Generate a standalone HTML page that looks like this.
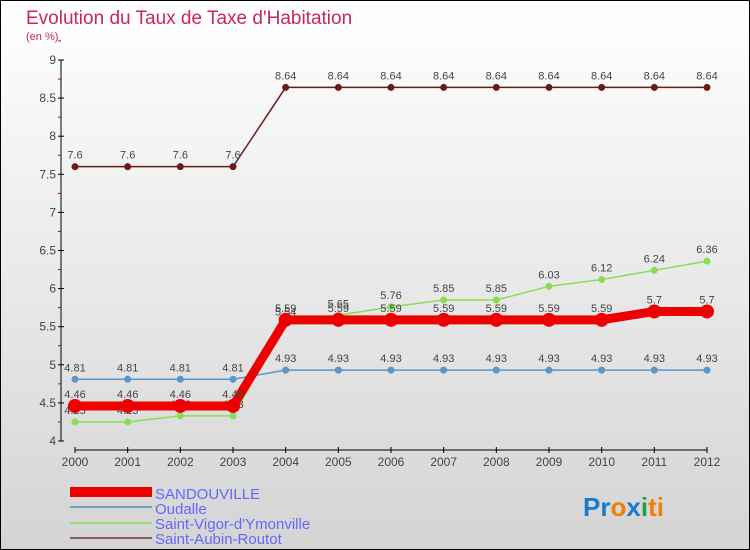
<!DOCTYPE html>
<html><head><meta charset="utf-8"><style>
body{margin:0}
#c{width:750px;height:550px;position:relative;box-sizing:border-box;border:1px solid #000;background:linear-gradient(#fff,#d4d4d4);font-family:"Liberation Sans",sans-serif;overflow:hidden}
</style></head><body>
<div id="c">
<svg id="s" width="750" height="550" style="position:absolute;left:-1px;top:-1px">
<text x="26" y="24" font-size="19" fill="#c8285a">Evolution du Taux de Taxe d'Habitation</text>
<text x="26" y="40" font-size="11" fill="#c8285a">(en %)</text>
<g id="axes"></g><g id="series"></g>
<g>
<rect x="70" y="487" width="82" height="10" fill="#e00"/>
<text x="155" y="499" font-size="15" fill="#6666ff">SANDOUVILLE</text>
<line x1="70" x2="152" y1="507" y2="507" stroke="#6fa0c8" stroke-width="2"/>
<text x="155" y="514" font-size="15" fill="#6666ff">Oudalle</text>
<line x1="70" x2="152" y1="523" y2="523" stroke="#99dd77" stroke-width="2"/>
<text x="155" y="529" font-size="15" fill="#6666ff">Saint-Vigor-d'Ymonville</text>
<line x1="70" x2="152" y1="538" y2="538" stroke="#8b5a5a" stroke-width="2"/>
<text x="155" y="544" font-size="15" fill="#6666ff">Saint-Aubin-Routot</text>
</g>
<text x="583" y="516" font-size="26" font-weight="bold"><tspan fill="#1a7ad0">Pr</tspan><tspan fill="#f08000">o</tspan><tspan fill="#1a7ad0">x</tspan><tspan fill="#20a040">i</tspan><tspan fill="#f08000">ti</tspan></text>
</svg>
</div>
<script>
const years=[2000,2001,2002,2003,2004,2005,2006,2007,2008,2009,2010,2011,2012];
const yTicks=[4,4.5,5,5.5,6,6.5,7,7.5,8,8.5,9];
const sandouville=[4.46,4.46,4.46,4.46,5.59,5.59,5.59,5.59,5.59,5.59,5.59,5.7,5.7];
const oudalle=[4.81,4.81,4.81,4.81,4.93,4.93,4.93,4.93,4.93,4.93,4.93,4.93,4.93];
const saintVigor=[4.25,4.25,4.33,4.33,5.54,5.65,5.76,5.85,5.85,6.03,6.12,6.24,6.36];
const saintAubin=[7.6,7.6,7.6,7.6,8.64,8.64,8.64,8.64,8.64,8.64,8.64,8.64,8.64];
const NS='http://www.w3.org/2000/svg';
const X=i=>75+i*(707-75)/(years.length-1);
const Y=v=>441-(v-4)*(441-60)/5;
function mk(t,a,p){const e=document.createElementNS(NS,t);for(const k in a)e.setAttribute(k,a[k]);p.appendChild(e);return e;}
const ax=document.getElementById('axes');
let e=mk('line',{x1:61,x2:61,y1:60,y2:441,stroke:'#000'},ax);


e=mk('line',{x1:75,x2:707,y1:450,y2:450,stroke:'#000'},ax);


yTicks.forEach(v=>{mk('line',{x1:58,x2:64,y1:Y(v),y2:Y(v),stroke:'#000'},ax);
mk('line',{x1:58,x2:61,y1:Y(v+0.25),y2:Y(v+0.25),stroke:'#c00'},ax);
const t=mk('text',{x:56,y:Y(v)+4,'font-size':12,fill:'#444','text-anchor':'end'},ax);t.textContent=v;

});
years.forEach((y,i)=>{mk('line',{x1:X(i),x2:X(i),y1:447,y2:453,stroke:'#000'},ax);
const t=mk('text',{x:X(i),y:466,'font-size':12,fill:'#444','text-anchor':'middle'},ax);t.textContent=y;

});
const sg=document.getElementById('series');
function draw(d,col,w,r,name){const g=mk('g',{},sg);


mk('polyline',{points:d.map((v,i)=>X(i)+','+Y(v)).join(' '),fill:'none',stroke:col,'stroke-width':w},g);
d.forEach((v,i)=>{const c=mk('circle',{cx:X(i),cy:Y(v),r:r,fill:col},g);


const t=mk('text',{x:X(i),y:Y(v)-8,'font-size':11,fill:'#444','text-anchor':'middle'},g);t.textContent=v;});}
draw(saintAubin,'#6b1a1a',1.5,3.5,'series-saint-aubin');
draw(oudalle,'#5a96c8',1.5,3.5,'series-oudalle');
draw(saintVigor,'#88dd55',1.5,3.5,'series-saint-vigor');
draw(sandouville,'#ee0000',9,7,'series-sandouville');
</script>
</body></html>
